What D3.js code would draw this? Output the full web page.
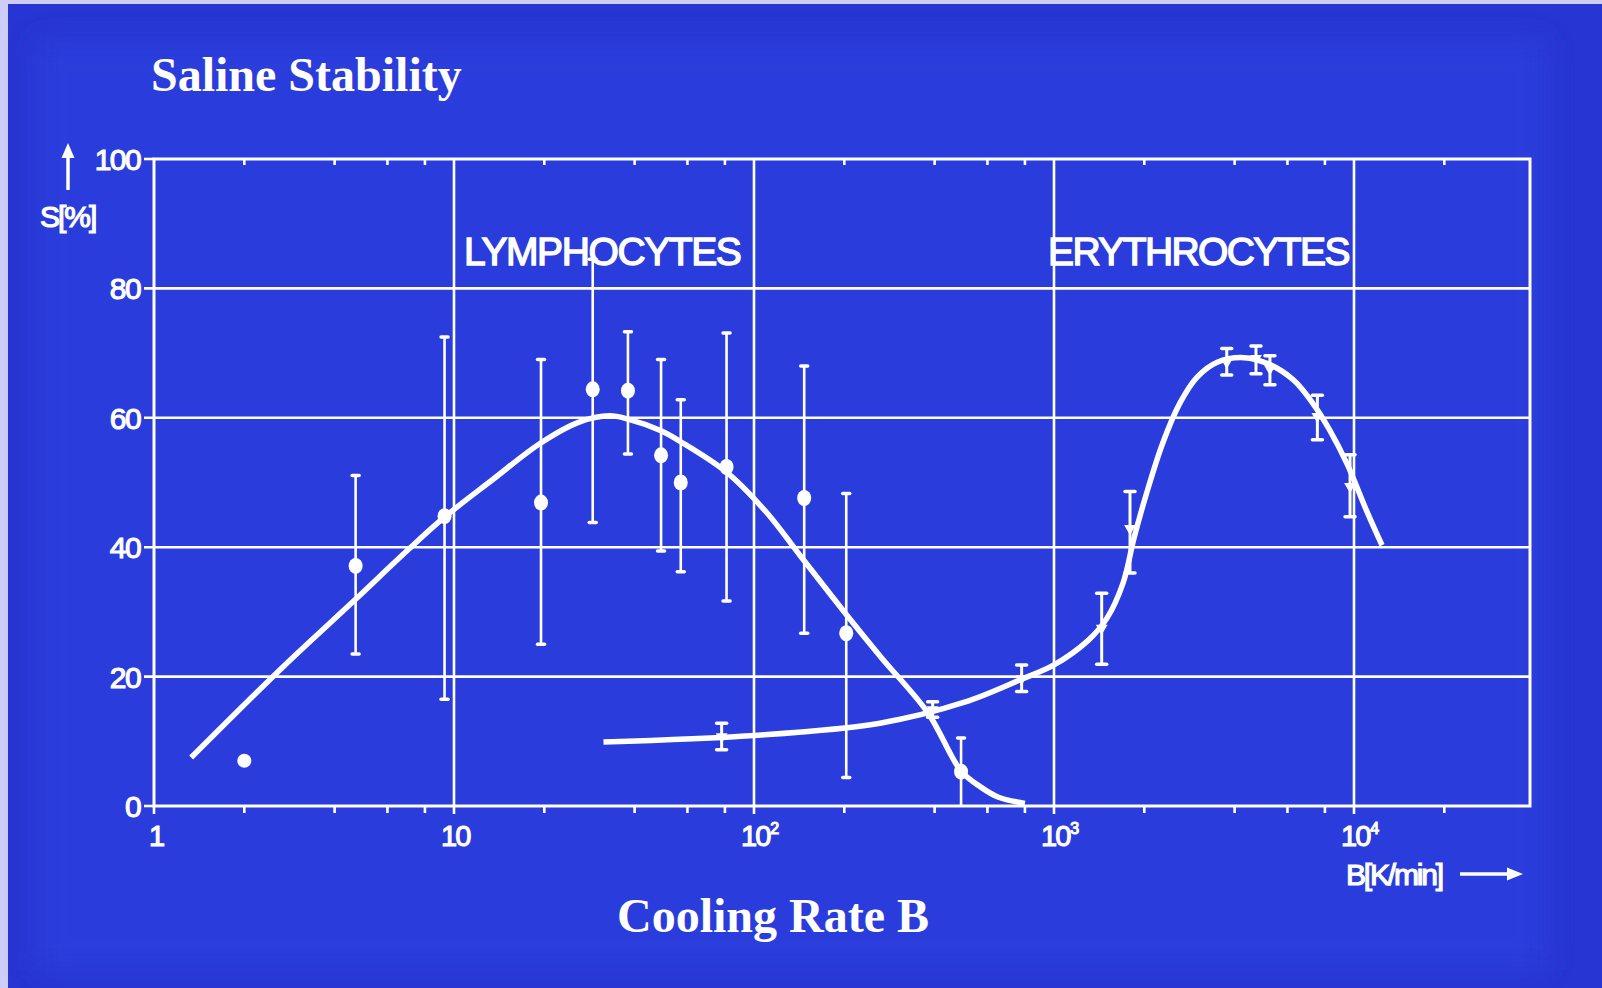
<!DOCTYPE html>
<html>
<head>
<meta charset="utf-8">
<script src="https://cdn.jsdelivr.net/npm/d3@7/dist/d3.min.js"></script>
<style>
  html, body { margin: 0; padding: 0; background: #cdcdf7; overflow: hidden; }
  svg { display: block; }
</style>
</head>
<body>
<svg id="chart" width="1602" height="988"></svg>
<script>
// ---- data: saline stability S[%] versus cooling rate B[K/min] ----
// Lymphocytes: measured points with error bars (rate, mean, low, high)
const lymphRate = [4.7, 9.3, 19.5, 29, 38, 49, 57, 81, 147, 203, 490];
const lymphMean = [37.1, 44.8, 46.9, 64.4, 64.2, 54.2, 50.0, 52.4, 47.6, 26.7, 5.3];
const lymphLow  = [23.5, 16.5, 25.0, 43.8, 54.4, 39.4, 36.2, 31.7, 26.7, 4.4, 0];
const lymphHigh = [51.1, 72.5, 69.0, 84.5, 73.3, 69.0, 62.8, 73.1, 68.0, 48.3, 10.5];
// single lymphocyte value without error bar
const lymphExtra = [[2, 7.0]];
// fitted lymphocyte curve (rate, S)
const lymphCurve = [
  [1.33, 7.5], [2.69, 21.5], [4.66, 31.8], [7.03, 39.6], [9.27, 44.6], [13.5, 50.5],
  [19.3, 56.0], [26, 59.3], [33, 60.3], [38, 59.8], [49, 58.0], [57, 56.3], [81, 51.6],
  [110, 45.4], [142, 38.8], [203, 29.6], [265, 23.0], [380, 14.4], [490, 5.4], [567, 3.0],
  [650, 1.4], [800, 0.4]
];

// Erythrocytes: measured points with error bars
const eryRate = [78, 394, 780, 1442, 1792, 3765, 4713, 5245, 7550, 9700];
const eryMean = [10.7, 14.9, 19.7, 27.5, 42.9, 68.6, 69.2, 67.6, 60.2, 49.4];
const eryLow  = [8.7, 13.7, 17.7, 21.9, 36.0, 66.6, 66.8, 65.1, 56.6, 44.7];
const eryHigh = [12.8, 16.1, 21.8, 32.9, 48.6, 70.7, 71.1, 69.6, 63.5, 54.3];
// fitted erythrocyte curve (rate, S)
const eryCurve = [
  [31.5, 9.9], [100, 10.9], [263, 12.8], [500, 16.0], [780, 19.6], [1000, 21.8],
  [1300, 25.6], [1500, 29.0], [1700, 34.5], [1850, 41.5], [2040, 48.5], [2300, 56.0],
  [2630, 62.3], [3000, 66.3], [3500, 68.6], [4300, 69.3], [5200, 68.3], [6300, 65.8],
  [7300, 62.2], [8300, 58.1], [9500, 52.8], [11000, 45.7], [12400, 40.3]
];

// axes
const yTicks = [0, 20, 40, 60, 80, 100];
const yGrid = [20, 40, 60, 80];
const xMajor = [1, 10, 100, 1000, 10000];
const xMajorBase = ["1", "10", "10", "10", "10"];
const xMajorExp = ["", "", "2", "3", "4"];
const xMinor = [2, 4, 6, 8, 20, 40, 60, 80, 200, 400, 600, 800, 2000, 4000, 6000, 8000, 20000];

// texts
const titleText = "Saline Stability";
const xTitleText = "Cooling Rate B";
const yUnitText = "S[%]";
const xUnitText = "B[K/min]";
const seriesNames = ["LYMPHOCYTES", "ERYTHROCYTES"];

// ---- layout ----
const W = 1602, H = 988;
const plotLeft = 154, plotRight = 1530, plotTop = 159, plotBottom = 806;
const ink = "#ffffff";
const sansFont = "'Liberation Sans', Arial, Helvetica, sans-serif";
const serifFont = "'Liberation Serif', 'Times New Roman', serif";

const svg = d3.select("#chart");

// slide background: light margin, blue slide with slightly lighter centre
const defs = svg.append("defs");
defs.append("filter").attr("id", "soft")
  .attr("x", "-10%").attr("y", "-10%").attr("width", "120%").attr("height", "120%")
  .append("feGaussianBlur").attr("stdDeviation", 14);
svg.append("rect").attr("x", 0).attr("y", 0).attr("width", W).attr("height", H).attr("fill", "#cdcdf7");
svg.append("rect").attr("x", 8).attr("y", 4).attr("width", W - 8).attr("height", H - 4).attr("fill", "#2735d2");
svg.append("rect").attr("x", 36).attr("y", 40).attr("width", 1510).attr("height", 930)
  .attr("fill", "#2b3cdc").attr("filter", "url(#soft)");

// scales: log cooling rate, linear stability
const x = d3.scaleLog().domain([1, 10000]).range([plotLeft, 1354]);
const y = d3.scaleLinear().domain([0, 100]).range([plotBottom, plotTop]);

const g = svg.append("g");

// grid lines
g.selectAll("line.hgrid").data(yGrid).join("line")
  .attr("x1", plotLeft - 10).attr("x2", plotRight)
  .attr("y1", d => y(d)).attr("y2", d => y(d))
  .attr("stroke", ink).attr("stroke-width", 2.6);
g.selectAll("line.vgrid").data(xMajor.slice(1)).join("line")
  .attr("x1", d => x(d)).attr("x2", d => x(d))
  .attr("y1", plotTop).attr("y2", plotBottom + 8)
  .attr("stroke", ink).attr("stroke-width", 2.6);

// frame
g.append("rect")
  .attr("x", plotLeft).attr("y", plotTop)
  .attr("width", plotRight - plotLeft).attr("height", plotBottom - plotTop)
  .attr("fill", "none").attr("stroke", ink).attr("stroke-width", 3);

// y ticks (left stubs) and x=1 stub below the axis
g.selectAll("line.ytick").data([0, 100]).join("line")
  .attr("x1", plotLeft - 10).attr("x2", plotLeft)
  .attr("y1", d => y(d)).attr("y2", d => y(d))
  .attr("stroke", ink).attr("stroke-width", 2.6);
g.append("line")
  .attr("x1", x(1)).attr("x2", x(1)).attr("y1", plotBottom).attr("y2", plotBottom + 8)
  .attr("stroke", ink).attr("stroke-width", 2.6);

// minor ticks: below the bottom axis and hanging from the top edge
g.selectAll("line.minorB").data(xMinor).join("line")
  .attr("x1", d => x(d)).attr("x2", d => x(d))
  .attr("y1", plotBottom).attr("y2", plotBottom + 7)
  .attr("stroke", ink).attr("stroke-width", 2.6);
g.selectAll("line.minorT").data(xMinor).join("line")
  .attr("x1", d => x(d)).attr("x2", d => x(d))
  .attr("y1", plotTop).attr("y2", plotTop + 6)
  .attr("stroke", ink).attr("stroke-width", 2.6);

// y tick labels
g.selectAll("text.ylab").data(yTicks).join("text")
  .attr("x", plotLeft - 14).attr("y", d => y(d) + 11)
  .attr("text-anchor", "end")
  .attr("font-family", sansFont).attr("font-size", 30)
  .attr("letter-spacing", "-1.6px")
  .attr("fill", ink).attr("stroke", ink).attr("stroke-width", 1.1)
  .text(d => d);

// x tick labels with superscript exponents
const xl = g.selectAll("text.xlab").data(xMajor).join("text")
  .attr("x", (d, i) => x(d) + (i === 0 ? -5 : -13))
  .attr("y", 846)
  .attr("font-family", sansFont).attr("font-size", 29)
  .attr("letter-spacing", "-2px")
  .attr("fill", ink).attr("stroke", ink).attr("stroke-width", 1.1);
xl.append("tspan").text((d, i) => xMajorBase[i]);
xl.append("tspan").attr("dy", -12).attr("font-size", 16).attr("dx", 1)
  .text((d, i) => xMajorExp[i]);

// axis unit labels and arrows
g.append("line").attr("x1", 68).attr("x2", 68).attr("y1", 190).attr("y2", 155)
  .attr("stroke", ink).attr("stroke-width", 3.5);
g.append("path").attr("d", "M68,143 L61.5,158 L74.5,158 Z").attr("fill", ink);
g.append("text").attr("x", 40).attr("y", 227)
  .attr("font-family", sansFont).attr("font-size", 30).attr("letter-spacing", "-2px")
  .attr("fill", ink).attr("stroke", ink).attr("stroke-width", 1.2)
  .text(yUnitText);

g.append("text").attr("x", 1346).attr("y", 885)
  .attr("font-family", sansFont).attr("font-size", 30).attr("letter-spacing", "-2.2px")
  .attr("fill", ink).attr("stroke", ink).attr("stroke-width", 1.2)
  .text(xUnitText);
g.append("line").attr("x1", 1460).attr("x2", 1510).attr("y1", 874).attr("y2", 874)
  .attr("stroke", ink).attr("stroke-width", 3.5);
g.append("path").attr("d", "M1523,874 L1507,867.5 L1507,880.5 Z").attr("fill", ink);

// series names
g.append("text").attr("x", 464).attr("y", 265)
  .attr("font-family", sansFont).attr("font-size", 39).attr("letter-spacing", "-1.4px")
  .attr("fill", ink).attr("stroke", ink).attr("stroke-width", 1.4)
  .text(seriesNames[0]);
g.append("text").attr("x", 1048).attr("y", 265)
  .attr("font-family", sansFont).attr("font-size", 39).attr("letter-spacing", "-1.6px")
  .attr("fill", ink).attr("stroke", ink).attr("stroke-width", 1.4)
  .text(seriesNames[1]);

// fitted curves
const line = d3.line().x(d => x(d[0])).y(d => y(d[1])).curve(d3.curveCatmullRom.alpha(0.5));
g.append("path").datum(lymphCurve).attr("d", line)
  .attr("fill", "none").attr("stroke", ink).attr("stroke-width", 5.5)
  .attr("stroke-linecap", "butt").attr("stroke-linejoin", "round");
g.append("path").datum(eryCurve).attr("d", line)
  .attr("fill", "none").attr("stroke", ink).attr("stroke-width", 5.5)
  .attr("stroke-linecap", "butt").attr("stroke-linejoin", "round");

// lymphocyte error bars and dots
const lymph = lymphRate.map((r, i) => ({ r, m: lymphMean[i], lo: lymphLow[i], hi: lymphHigh[i] }));
const lg = g.append("g");
lg.selectAll("line.bar").data(lymph).join("line")
  .attr("x1", d => x(d.r)).attr("x2", d => x(d.r))
  .attr("y1", d => y(d.lo)).attr("y2", d => y(d.hi))
  .attr("stroke", ink).attr("stroke-width", 2.6);
lg.selectAll("line.capHi").data(lymph).join("line")
  .attr("x1", d => x(d.r) - 3.5).attr("x2", d => x(d.r) + 3.5)
  .attr("y1", d => y(d.hi)).attr("y2", d => y(d.hi))
  .attr("stroke", ink).attr("stroke-width", 3.5).attr("stroke-linecap", "round");
lg.selectAll("line.capLo").data(lymph.filter(d => d.lo > 0)).join("line")
  .attr("x1", d => x(d.r) - 3.5).attr("x2", d => x(d.r) + 3.5)
  .attr("y1", d => y(d.lo)).attr("y2", d => y(d.lo))
  .attr("stroke", ink).attr("stroke-width", 3.5).attr("stroke-linecap", "round");
lg.selectAll("ellipse.dot").data(lymph).join("ellipse")
  .attr("cx", d => x(d.r)).attr("cy", d => y(d.m))
  .attr("rx", 7).attr("ry", 8).attr("fill", ink);
lg.selectAll("ellipse.extra").data(lymphExtra).join("ellipse")
  .attr("cx", d => x(d[0])).attr("cy", d => y(d[1]))
  .attr("rx", 7).attr("ry", 7).attr("fill", ink);

// erythrocyte error bars with wide caps and small triangle markers
const ery = eryRate.map((r, i) => ({ r, m: eryMean[i], lo: eryLow[i], hi: eryHigh[i] }));
const eg = g.append("g");
eg.selectAll("line.bar").data(ery).join("line")
  .attr("x1", d => x(d.r)).attr("x2", d => x(d.r))
  .attr("y1", d => y(d.lo)).attr("y2", d => y(d.hi))
  .attr("stroke", ink).attr("stroke-width", 3);
eg.selectAll("line.capHi").data(ery).join("line")
  .attr("x1", d => x(d.r) - 5).attr("x2", d => x(d.r) + 5)
  .attr("y1", d => y(d.hi)).attr("y2", d => y(d.hi))
  .attr("stroke", ink).attr("stroke-width", 3.5).attr("stroke-linecap", "round");
eg.selectAll("line.capLo").data(ery).join("line")
  .attr("x1", d => x(d.r) - 5).attr("x2", d => x(d.r) + 5)
  .attr("y1", d => y(d.lo)).attr("y2", d => y(d.lo))
  .attr("stroke", ink).attr("stroke-width", 3.5).attr("stroke-linecap", "round");
eg.selectAll("path.mark").data(ery).join("path")
  .attr("transform", d => `translate(${x(d.r)},${y(d.m)}) rotate(180)`)
  .attr("d", d3.symbol(d3.symbolTriangle, 60))
  .attr("fill", ink);

// slide titles
svg.append("text").attr("x", 151).attr("y", 91)
  .attr("font-family", serifFont).attr("font-weight", "bold").attr("font-size", 48)
  .attr("fill", ink).text(titleText);
svg.append("text").attr("x", 617).attr("y", 932)
  .attr("font-family", serifFont).attr("font-weight", "bold").attr("font-size", 48)
  .attr("fill", ink).text(xTitleText);
</script>
</body>
</html>
